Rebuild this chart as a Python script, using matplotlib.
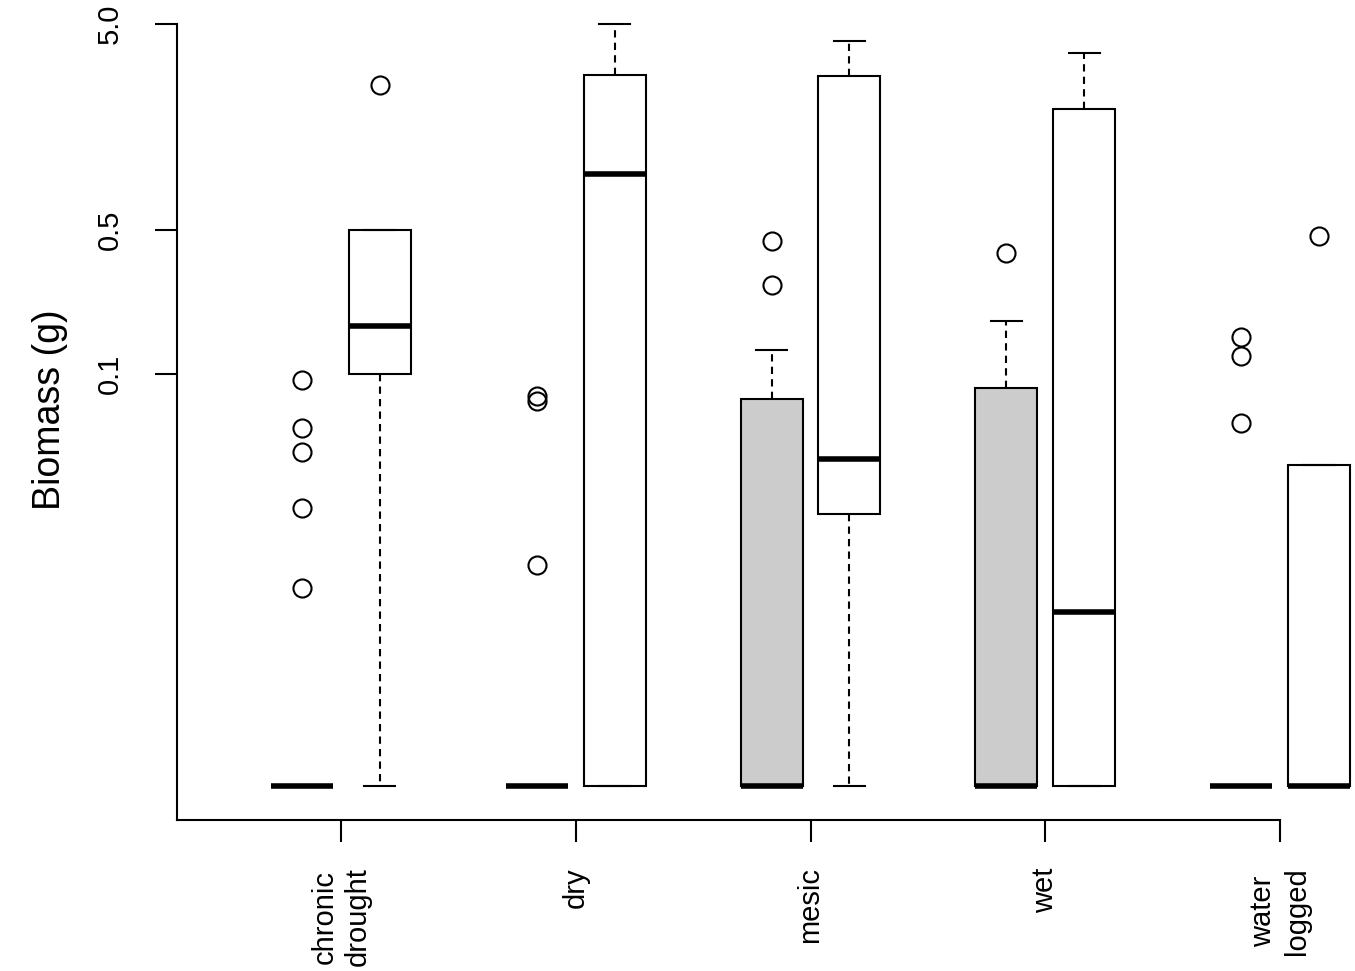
import matplotlib
matplotlib.use("Agg")
import matplotlib.pyplot as plt

plt.rcParams['font.family'] = ['Liberation Sans', 'DejaVu Sans']

# ---- data (zero biomass plotted at 0.001) ----
groups = ["chronic\ndrought", "dry", "mesic", "wet", "water\nlogged"]

grey_whislo = [0.001, 0.001, 0.001, 0.001, 0.001]
grey_q1 = [0.001, 0.001, 0.001, 0.001, 0.001]
grey_med = [0.001, 0.001, 0.001, 0.001, 0.001]
grey_q3 = [0.001, 0.001, 0.0757, 0.0855, 0.001]
grey_whishi = [0.001, 0.001, 0.131, 0.181, 0.001]
grey_fliers = [[0.0935, 0.0547, 0.0418, 0.0224, 0.00914],
               [0.0782, 0.0740, 0.0118],
               [0.443, 0.270],
               [0.386],
               [0.151, 0.122, 0.0578]]

white_whislo = [0.001, 0.001, 0.001, 0.001, 0.001]
white_q1 = [0.100, 0.001, 0.0209, 0.001, 0.001]
white_med = [0.171, 0.935, 0.0387, 0.0070, 0.001]
white_q3 = [0.50, 2.83, 2.80, 1.93, 0.0362]
white_whishi = [0.50, 5.0, 4.14, 3.62, 0.0362]
white_fliers = [[2.53], [], [], [], [0.468]]

ytick_vals = [0.1, 0.5, 5.0]
ytick_labels = ["0.1", "0.5", "5.0"]

# ---- figure ----
W, H = 1355, 971
fig = plt.figure(figsize=(W / 100, H / 100), dpi=100)
ax = fig.add_axes([177 / W, (H - 820) / H, (W - 177) / W, 820 / H])


def make_stats(wl, q1, med, q3, wh, fl):
    return [dict(whislo=a, q1=b, med=c, q3=d, whishi=e, fliers=f)
            for a, b, c, d, e, f in zip(wl, q1, med, q3, wh, fl)]


positions = list(range(1, len(groups) + 1))
off = 0.166
bw = 0.264
lw = 1.5

common = dict(widths=bw, capwidths=bw * 0.5, patch_artist=True, showfliers=True,
              medianprops=dict(color='black', linewidth=4, solid_capstyle='butt'),
              whiskerprops=dict(color='black', linewidth=lw, linestyle=(0, (3.5, 2.5))),
              capprops=dict(color='black', linewidth=lw),
              flierprops=dict(marker='o', markerfacecolor='none', markeredgecolor='black',
                              markersize=13, markeredgewidth=1.5, linestyle='none'),
              manage_ticks=False)

ax.bxp(make_stats(grey_whislo, grey_q1, grey_med, grey_q3, grey_whishi, grey_fliers),
       positions=[p - off for p in positions],
       boxprops=dict(facecolor='#cccccc', edgecolor='black', linewidth=lw), **common)
ax.bxp(make_stats(white_whislo, white_q1, white_med, white_q3, white_whishi, white_fliers),
       positions=[p + off for p in positions],
       boxprops=dict(facecolor='white', edgecolor='black', linewidth=lw), **common)

ax.set_yscale('log')
# pixel mapping: y_px = 374 - 206*(log10(v)+1)
ax.set_ylim(10 ** (-446 / 206 - 1), 10 ** (374 / 206 - 1))
ax.set_xlim(1 + (177 - 341) / 234.75, 1 + (W - 341) / 234.75)

for a in ax.get_children():
    try:
        a.set_clip_on(False)
    except Exception:
        pass

ax.set_yticks(ytick_vals)
ax.set_yticklabels(ytick_labels, rotation=90, va='center', fontsize=21)
ax.yaxis.set_minor_locator(matplotlib.ticker.NullLocator())
ax.set_xticks(positions)
ax.set_xticklabels(groups, rotation=90, ha='center', va='top', fontsize=21,
                   linespacing=1.25)

ax.tick_params(axis='both', which='major', length=16, width=lw, color='black')
ax.tick_params(axis='y', pad=22)
ax.tick_params(axis='x', pad=18)

for s in ['top', 'right']:
    ax.spines[s].set_visible(False)
for s in ['left', 'bottom']:
    ax.spines[s].set_linewidth(lw)
ax.spines['left'].set_bounds(ax.get_ylim()[0], 5.0)
ax.spines['bottom'].set_bounds(ax.get_xlim()[0], positions[-1])

ax.set_ylabel("Biomass (g)", fontsize=27, labelpad=20)
ax.patch.set_visible(False)

fig.savefig("out.png", dpi=100)
